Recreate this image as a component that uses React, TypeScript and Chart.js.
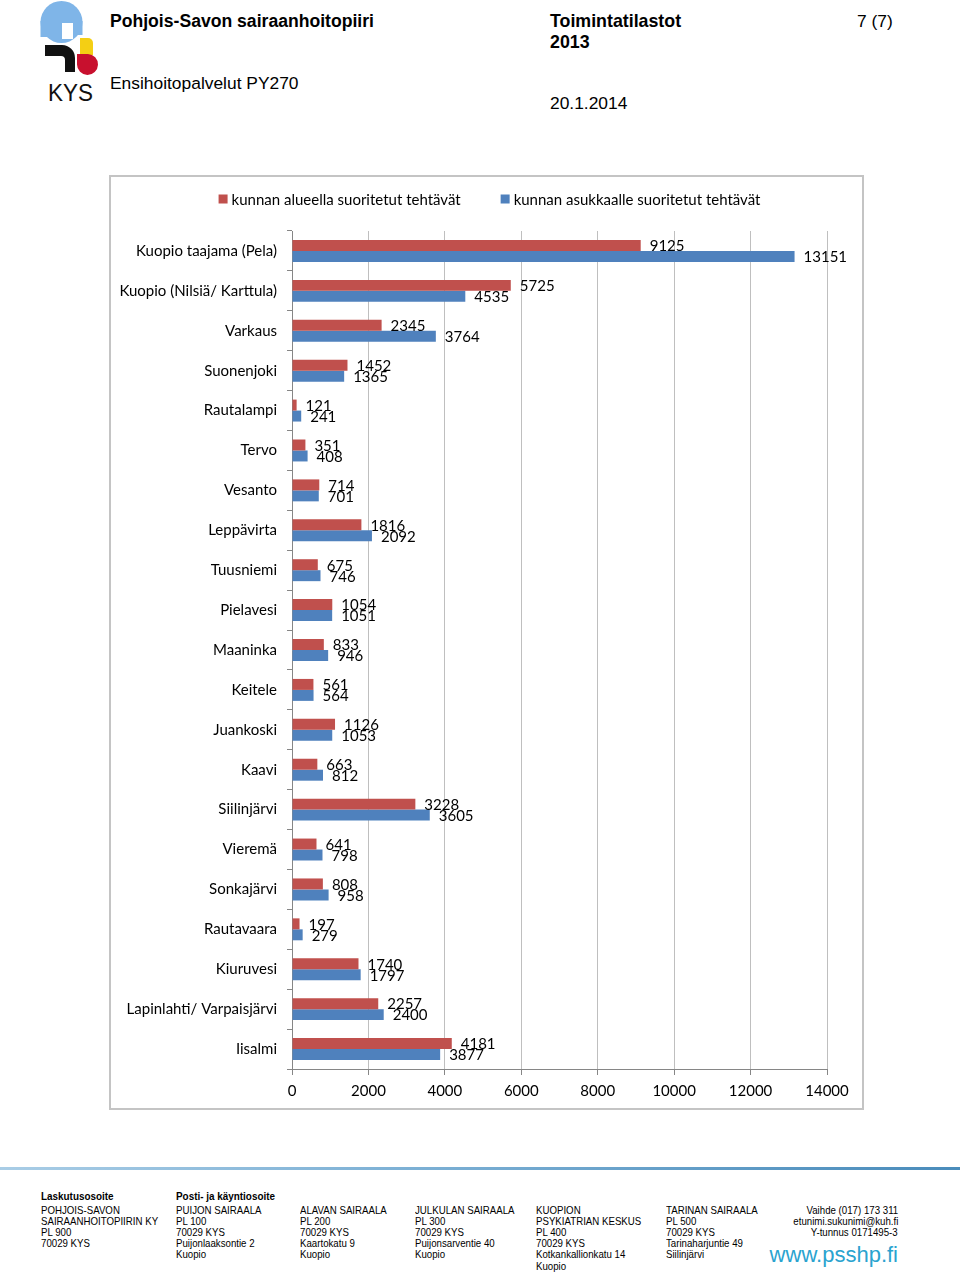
import React, { useEffect, useRef } from "react";
import { Chart, registerables } from "chart.js";

Chart.register(...registerables);

const categories = [
  "Kuopio taajama (Pela)",
  "Kuopio (Nilsiä/ Karttula)",
  "Varkaus",
  "Suonenjoki",
  "Rautalampi",
  "Tervo",
  "Vesanto",
  "Leppävirta",
  "Tuusniemi",
  "Pielavesi",
  "Maaninka",
  "Keitele",
  "Juankoski",
  "Kaavi",
  "Siilinjärvi",
  "Vieremä",
  "Sonkajärvi",
  "Rautavaara",
  "Kiuruvesi",
  "Lapinlahti/ Varpaisjärvi",
  "Iisalmi",
];

const areaTasks = [9125, 5725, 2345, 1452, 121, 351, 714, 1816, 675, 1054, 833, 561, 1126, 663, 3228, 641, 808, 197, 1740, 2257, 4181];
const residentTasks = [13151, 4535, 3764, 1365, 241, 408, 701, 2092, 746, 1051, 946, 564, 1053, 812, 3605, 798, 958, 279, 1797, 2400, 3877];

const seriesNames = ["kunnan alueella suoritetut tehtävät", "kunnan asukkaalle suoritetut tehtävät"];
const xMin = 0;
const xMax = 14000;
const xStep = 2000;

const RED = "#C0504D";
const BLUE = "#4F81BD";
const CHART_FONT = "Lato, 'Open Sans', sans-serif";

const legendPlugin = {
  id: "customLegend",
  afterDraw(chart: any) {
    const ctx = chart.ctx;
    ctx.save();
    ctx.font = `15px ${CHART_FONT}`;
    ctx.textBaseline = "middle";
    const box = 9;
    const gapBox = 4;
    const gapItem = 40;
    const items = chart.data.datasets.map((d: any) => ({
      text: d.label,
      color: d.backgroundColor,
      w: box + gapBox + ctx.measureText(d.label).width,
    }));
    const total = items.reduce((s: number, it: any) => s + it.w, 0) + gapItem * (items.length - 1);
    let x = chart.width / 2 - total / 2 + 3;
    const y = 22;
    items.forEach((it: any) => {
      ctx.fillStyle = it.color;
      ctx.fillRect(x, y - box / 2, box, box);
      ctx.fillStyle = "#000";
      ctx.textAlign = "left";
      ctx.fillText(it.text, x + box + gapBox, y + 1);
      x += it.w + gapItem;
    });
    ctx.restore();
  },
};

const valueLabelPlugin = {
  id: "valueLabels",
  afterDatasetsDraw(chart: any) {
    const ctx = chart.ctx;
    ctx.save();
    ctx.font = `15px ${CHART_FONT}`;
    ctx.fillStyle = "#000";
    ctx.textAlign = "left";
    ctx.textBaseline = "middle";
    chart.data.datasets.forEach((ds: any, di: number) => {
      const meta = chart.getDatasetMeta(di);
      meta.data.forEach((el: any, i: number) => {
        ctx.fillText(String(ds.data[i]), el.x + 9, el.y + 1);
      });
    });
    ctx.restore();
  },
};

function BarChart() {
  const ref = useRef<HTMLCanvasElement | null>(null);
  useEffect(() => {
    if (!ref.current) return;
    const chart = new Chart(ref.current, {
      type: "bar",
      data: {
        labels: categories,
        datasets: [
          { label: seriesNames[0], data: areaTasks, backgroundColor: RED, categoryPercentage: 0.55, barPercentage: 1 },
          { label: seriesNames[1], data: residentTasks, backgroundColor: BLUE, categoryPercentage: 0.55, barPercentage: 1 },
        ],
      },
      options: {
        indexAxis: "y",
        animation: false,
        responsive: false,
        maintainAspectRatio: false,
        devicePixelRatio: 1,
        layout: { padding: { top: 54, right: 35, left: 0, bottom: 0 } },
        plugins: { legend: { display: false }, tooltip: { enabled: false } },
        scales: {
          x: {
            min: xMin,
            max: xMax,
            ticks: {
              stepSize: xStep,
              font: { family: CHART_FONT, size: 15 },
              color: "#000",
              padding: 7,
              maxRotation: 0,
              callback: (v: any) => String(v),
            },
            grid: { color: "#bfbfbf", tickLength: 6, drawTicks: true, tickColor: "#868686" },
            border: { color: "#868686" },
            afterFit(s: any) {
              s.height = 39;
            },
          },
          y: {
            ticks: { font: { family: CHART_FONT, size: 15 }, color: "#000", padding: 10, autoSkip: false },
            grid: { drawOnChartArea: false, tickLength: 5, offset: true, color: "#868686" },
            border: { color: "#868686" },
            afterFit(s: any) {
              s.width = 181;
            },
          },
        },
      } as any,
      plugins: [legendPlugin, valueLabelPlugin],
    });
    return () => chart.destroy();
  }, []);
  return <canvas ref={ref} width={751} height={931} style={{ position: "absolute", left: 111, top: 177, width: 751, height: 931 }} />;
}

const footerCols: { x: number; head?: string; lines: string[] }[] = [
  { x: 41, head: "Laskutusosoite", lines: ["POHJOIS-SAVON", "SAIRAANHOITOPIIRIN KY", "PL 900", "70029 KYS"] },
  { x: 176, head: "Posti- ja käyntiosoite", lines: ["PUIJON SAIRAALA", "PL 100", "70029 KYS", "Puijonlaaksontie 2", "Kuopio"] },
  { x: 300, lines: ["ALAVAN SAIRAALA", "PL 200", "70029 KYS", "Kaartokatu 9", "Kuopio"] },
  { x: 415, lines: ["JULKULAN SAIRAALA", "PL 300", "70029 KYS", "Puijonsarventie 40", "Kuopio"] },
  { x: 536, lines: ["KUOPION", "PSYKIATRIAN KESKUS", "PL 400", "70029 KYS", "Kotkankallionkatu 14", "Kuopio"] },
  { x: 666, lines: ["TARINAN SAIRAALA", "PL 500", "70029 KYS", "Tarinaharjuntie 49", "Siilinjärvi"] },
];
const contactLines = ["Vaihde (017) 173 311", "etunimi.sukunimi@kuh.fi", "Y-tunnus 0171495-3"];

const HF = "'Liberation Sans', Arial, sans-serif";

function Txt(props: { x: number; y: number; size: number; bold?: boolean; children: React.ReactNode; right?: boolean; color?: string; sx?: number }) {
  const lh = props.size + 4;
  const sx = props.sx || 1;
  const style: React.CSSProperties = {
    position: "absolute",
    top: props.y - lh / 2,
    lineHeight: `${lh}px`,
    fontSize: props.size,
    fontFamily: HF,
    fontWeight: props.bold ? "bold" : "normal",
    color: props.color || "#000",
    whiteSpace: "nowrap",
    transform: sx !== 1 ? `scaleX(${sx})` : undefined,
    transformOrigin: props.right ? "right center" : "left center",
  };
  if (props.right) style.right = 960 - props.x;
  else style.left = props.x;
  return <div style={style}>{props.children}</div>;
}

function Logo() {
  return (
    <svg width={110} height={110} style={{ position: "absolute", left: 0, top: 0 }}>
      <circle cx={61.5} cy={22} r={21} fill="#7fb5e8" />
      <rect x={40.5} y={21} width={22} height={16} fill="#7fb5e8" />
      <rect x={62} y={23} width={11} height={16} fill="#fff" />
      <rect x={73} y={21} width={9.5} height={14} fill="#7fb5e8" />
      <path d="M80 38 H88 A5 5 0 0 1 93 43 V55 H80 Z" fill="#f4cf14" />
      <path d="M45 45 H62 A13 13 0 0 1 75 58 V72 H65 V60 A4 4 0 0 0 61 56 H45 Z" fill="#111" />
      <path d="M77 54 H88 A10.5 10.5 0 1 1 77 64.5 Z" fill="#c8102e" />
      <text x={48} y={101} fontFamily={HF} fontSize={23} fill="#111" textLength={45} lengthAdjust="spacingAndGlyphs">KYS</text>
    </svg>
  );
}

export default function App() {
  return (
    <div style={{ position: "absolute", left: 0, top: 0, width: 960, height: 1273, background: "#fff", overflow: "hidden" }}>
      <Logo />
      <Txt x={110} y={22} size={17.6} bold>Pohjois-Savon sairaanhoitopiiri</Txt>
      <Txt x={110} y={84} size={17.4}>Ensihoitopalvelut PY270</Txt>
      <Txt x={550} y={22} size={17.8} bold>Toimintatilastot</Txt>
      <Txt x={550} y={43} size={17.8} bold>2013</Txt>
      <Txt x={550} y={104} size={17.4}>20.1.2014</Txt>
      <Txt x={857} y={22} size={17.4}>7 (7)</Txt>

      <div style={{ position: "absolute", left: 109, top: 175, width: 755, height: 935, border: "2px solid #c4c4c4", boxSizing: "border-box" }} />
      <BarChart />

      <div style={{ position: "absolute", left: 0, top: 1167, width: 960, height: 3, background: "linear-gradient(to right, #a9cde6 0%, #7fb2d6 40%, #4a8cbb 100%)" }} />
      {footerCols.map((c, ci) => (
        <React.Fragment key={ci}>
          {c.head ? <Txt x={c.x} y={1196} size={11} bold sx={0.9}>{c.head}</Txt> : null}
          {c.lines.map((l, li) => (
            <Txt key={li} x={c.x} y={1210 + li * 11.2} size={11} sx={0.88}>{l}</Txt>
          ))}
        </React.Fragment>
      ))}
      {contactLines.map((l, li) => (
        <Txt key={li} x={898} y={1210 + li * 11.2} size={11} right sx={0.88}>{l}</Txt>
      ))}
      <Txt x={898} y={1255} size={22} right color="#2aa3cf">www.psshp.fi</Txt>
    </div>
  );
}
